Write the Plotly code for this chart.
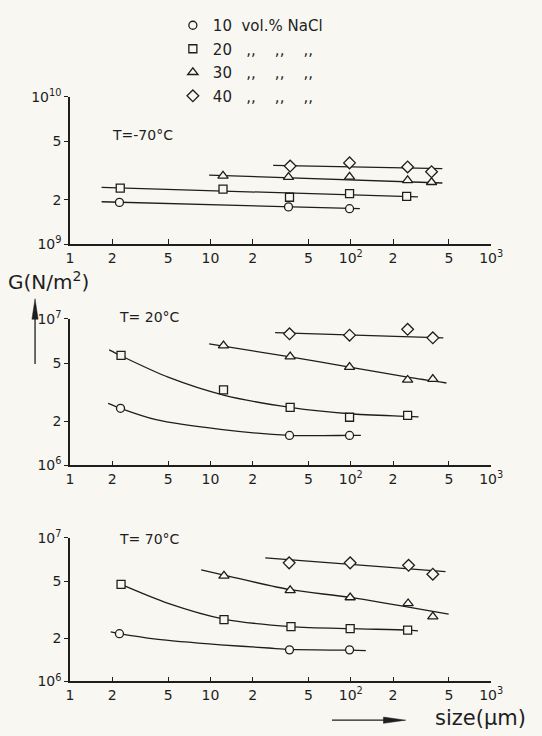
import plotly.graph_objects as go

W, H = 542, 736
BG = "#f8f7f2"
INK = "#1e1e1e"
FONT = "DejaVu Sans"

# ---------------- data (size in µm, G in N/m²) ----------------
x_ticks = [1, 2, 5, 10, 20, 50, 100, 200, 500, 1000]
x_ticktext = ["1", "2", "5", "10", "2", "5", "10<sup>2</sup>", "2", "5", "10<sup>3</sup>"]

legend_names = ["10  vol.% NaCl", "20   ,,    ,,    ,,", "30   ,,    ,,    ,,", "40   ,,    ,,    ,,"]
symbols = ["circle", "square", "triangle-up", "diamond"]

# T = -70 °C
m70_x10 = [2.25, 36, 98];               m70_g10 = [1.92e9, 1.79e9, 1.74e9]
m70_x20 = [2.28, 12.3, 36.6, 98, 250];  m70_g20 = [2.40e9, 2.36e9, 2.08e9, 2.20e9, 2.11e9]
m70_x30 = [12.3, 36, 98, 254, 376];     m70_g30 = [2.91e9, 2.85e9, 2.86e9, 2.71e9, 2.63e9]
m70_x40 = [37, 98, 254, 376];           m70_g40 = [3.39e9, 3.56e9, 3.34e9, 3.10e9]
m70_fx10 = [1.68, 116];  m70_fg10 = [1.94e9, 1.74e9]
m70_fx20 = [1.68, 301];  m70_fg20 = [2.43e9, 2.09e9]
m70_fx30 = [9.8, 449];   m70_fg30 = [2.94e9, 2.60e9]
m70_fx40 = [28, 449];    m70_fg40 = [3.42e9, 3.25e9]

# T = 20 °C
p20_x10 = [2.29, 36.6, 98];             p20_g10 = [2.45e6, 1.60e6, 1.60e6]
p20_x20 = [2.31, 12.4, 37, 98, 254];    p20_g20 = [5.64e6, 3.28e6, 2.49e6, 2.13e6, 2.19e6]
p20_x30 = [12.4, 37, 98, 254, 384];     p20_g30 = [6.58e6, 5.53e6, 4.69e6, 3.83e6, 3.88e6]
p20_x40 = [36.6, 98, 254, 384];         p20_g40 = [7.91e6, 7.75e6, 8.50e6, 7.43e6]
p20_fx10 = [1.87, 2.29, 4.1, 11.8, 36.6, 98, 118]
p20_fg10 = [2.65e6, 2.45e6, 2.05e6, 1.76e6, 1.60e6, 1.60e6, 1.60e6]
p20_fx20 = [1.9, 2.31, 5, 12.4, 37, 98, 254, 304]
p20_fg20 = [6.15e6, 5.6e6, 4.0e6, 3.02e6, 2.49e6, 2.25e6, 2.16e6, 2.14e6]
p20_fx30 = [9.8, 37, 98, 254, 480]
p20_fg30 = [6.75e6, 5.5e6, 4.69e6, 4.0e6, 3.65e6]
p20_fx40 = [28.9, 456]
p20_fg40 = [8.07e6, 7.43e6]

# T = 70 °C
p70_x10 = [2.25, 36.6, 98];             p70_g10 = [2.15e6, 1.66e6, 1.66e6]
p70_x20 = [2.31, 12.5, 37.5, 99, 254];  p70_g20 = [4.74e6, 2.69e6, 2.41e6, 2.33e6, 2.28e6]
p70_x30 = [12.5, 37, 99, 256, 384];     p70_g30 = [5.43e6, 4.30e6, 3.84e6, 3.49e6, 2.83e6]
p70_x40 = [36.4, 99, 258, 384];         p70_g40 = [6.69e6, 6.69e6, 6.43e6, 5.58e6]
p70_fx10 = [1.95, 2.25, 4.1, 11.8, 26, 36.6, 98, 128]
p70_fg10 = [2.21e6, 2.15e6, 1.97e6, 1.80e6, 1.71e6, 1.67e6, 1.65e6, 1.64e6]
p70_fx20 = [2.31, 5, 12.5, 37.5, 99, 254, 301]
p70_fg20 = [4.74e6, 3.5e6, 2.72e6, 2.41e6, 2.33e6, 2.28e6, 2.25e6]
p70_fx30 = [8.6, 12.5, 37, 99, 498]
p70_fg30 = [5.97e6, 5.5e6, 4.35e6, 3.85e6, 2.94e6]
p70_fx40 = [24.6, 473]
p70_fg40 = [7.25e6, 5.81e6]

panels = [
    dict(label="T=-70°C", yr=[9, 10], yt=[1e9, 2e9, 5e9, 1e10],
         ytt=["10<sup>9</sup>", "2", "5", "10<sup>10</sup>"],
         pts=[(m70_x10, m70_g10), (m70_x20, m70_g20), (m70_x30, m70_g30), (m70_x40, m70_g40)],
         fits=[(m70_fx10, m70_fg10), (m70_fx20, m70_fg20), (m70_fx30, m70_fg30), (m70_fx40, m70_fg40)],
         top=89, bot=240, lab_xy=(109, 128)),
    dict(label="T= 20°C", yr=[6, 7], yt=[1e6, 2e6, 5e6, 1e7],
         ytt=["10<sup>6</sup>", "2", "5", "10<sup>7</sup>"],
         pts=[(p20_x10, p20_g10), (p20_x20, p20_g20), (p20_x30, p20_g30), (p20_x40, p20_g40)],
         fits=[(p20_fx10, p20_fg10), (p20_fx20, p20_fg20), (p20_fx30, p20_fg30), (p20_fx40, p20_fg40)],
         top=316.7, bot=466.7, lab_xy=(116, 315)),
    dict(label="T= 70°C", yr=[6, 7], yt=[1e6, 2e6, 5e6, 1e7],
         ytt=["10<sup>6</sup>", "2", "5", "10<sup>7</sup>"],
         pts=[(p70_x10, p70_g10), (p70_x20, p70_g20), (p70_x30, p70_g30), (p70_x40, p70_g40)],
         fits=[(p70_fx10, p70_fg10), (p70_fx20, p70_fg20), (p70_fx30, p70_fg30), (p70_fx40, p70_fg40)],
         top=541, bot=688.3, lab_xy=(116, 542)),
]

fig = go.Figure()
X0, X1 = 68, 502


def px(xp):
    return xp / W


def py(yp):
    return 1 - yp / H


annotations = []
for i, p in enumerate(panels):
    n = "" if i == 0 else str(i + 1)
    xa, ya = "x" + n, "y" + n
    for (fx, fg) in p["fits"]:
        fig.add_trace(go.Scatter(x=fx, y=fg, mode="lines", xaxis=xa, yaxis=ya,
                                 line=dict(color=INK, width=1.3, shape="spline", smoothing=0.8),
                                 showlegend=False, hoverinfo="skip"))
    for k, (sx, sg) in enumerate(p["pts"]):
        fig.add_trace(go.Scatter(x=sx, y=sg, mode="markers", xaxis=xa, yaxis=ya,
                                 name=legend_names[k], legendgroup="g%d" % k,
                                 showlegend=(i == 0),
                                 marker=dict(symbol=symbols[k],
                                             size=8 if k < 2 else 9, color=BG,
                                             line=dict(color=INK, width=1.3))))
    axis_common = dict(showline=True, linecolor=INK, linewidth=1.5, showgrid=False,
                       zeroline=False, tickcolor=INK, tickwidth=1.3,
                       tickfont=dict(family=FONT, size=14, color=INK))
    fig.layout["xaxis" + n] = dict(type="log", range=[0, 3], tickmode="array",
                                   tickvals=x_ticks, ticktext=x_ticktext, ticks="inside",
                                   ticklen=5, anchor=ya,
                                   domain=[X0 / W, X1 / W], **axis_common)
    fig.layout["yaxis" + n] = dict(type="log", range=p["yr"], tickmode="array",
                                   tickvals=p["yt"], ticktext=p["ytt"], ticks="outside",
                                   ticklen=4, anchor=xa,
                                   domain=[1 - p["bot"] / H, 1 - p["top"] / H], **axis_common)
    annotations.append(dict(text=p["label"], xref="paper", yref="paper",
                            x=px(p["lab_xy"][0]), y=py(p["lab_xy"][1]),
                            xanchor="left", yanchor="middle", showarrow=False,
                            font=dict(family=FONT, size=14, color=INK)))

annotations += [
    dict(text="G(N/m<sup>2</sup>)", xref="paper", yref="paper", x=px(2), y=py(278),
         xanchor="left", yanchor="middle", showarrow=False,
         font=dict(family=FONT, size=20, color=INK)),
    dict(text="size(µm)", xref="paper", yref="paper", x=px(540), y=py(726),
         xanchor="right", yanchor="middle", showarrow=False,
         font=dict(family=FONT, size=21, color=INK)),
]

shapes = [
    # vertical arrow next to the G label
    dict(type="line", xref="paper", yref="paper", x0=px(32), x1=px(32), y0=py(363), y1=py(312),
         line=dict(color=INK, width=1.3)),
    dict(type="path", xref="paper", yref="paper", fillcolor=INK, line=dict(color=INK, width=0.5),
         path="M {:.4f},{:.4f} L {:.4f},{:.4f} L {:.4f},{:.4f} Z".format(
             px(32), py(296), px(28.8), py(317), px(35.2), py(317))),
    # horizontal arrow before size label
    dict(type="line", xref="paper", yref="paper", x0=px(338), x1=px(395), y0=py(728), y1=py(728),
         line=dict(color=INK, width=1.3)),
    dict(type="path", xref="paper", yref="paper", fillcolor=INK, line=dict(color=INK, width=0.5),
         path="M {:.4f},{:.4f} L {:.4f},{:.4f} L {:.4f},{:.4f} Z".format(
             px(414), py(728), px(391), py(724.8), px(391), py(731.2))),
]

fig.update_layout(
    width=W, height=H, margin=dict(l=0, r=0, t=0, b=0),
    paper_bgcolor=BG, plot_bgcolor=BG,
    font=dict(family=FONT, color=INK),
    annotations=annotations, shapes=shapes,
    showlegend=True,
    legend=dict(x=px(174), y=py(-1), xanchor="left", yanchor="top",
                bgcolor="rgba(0,0,0,0)", borderwidth=0, tracegroupgap=1,
                font=dict(family=FONT, size=15, color=INK), itemwidth=30),
)

fig.write_html("out.html", config={"displayModeBar": False},
               post_script="document.body.style.margin='0';document.body.style.background='%s';" % BG)
